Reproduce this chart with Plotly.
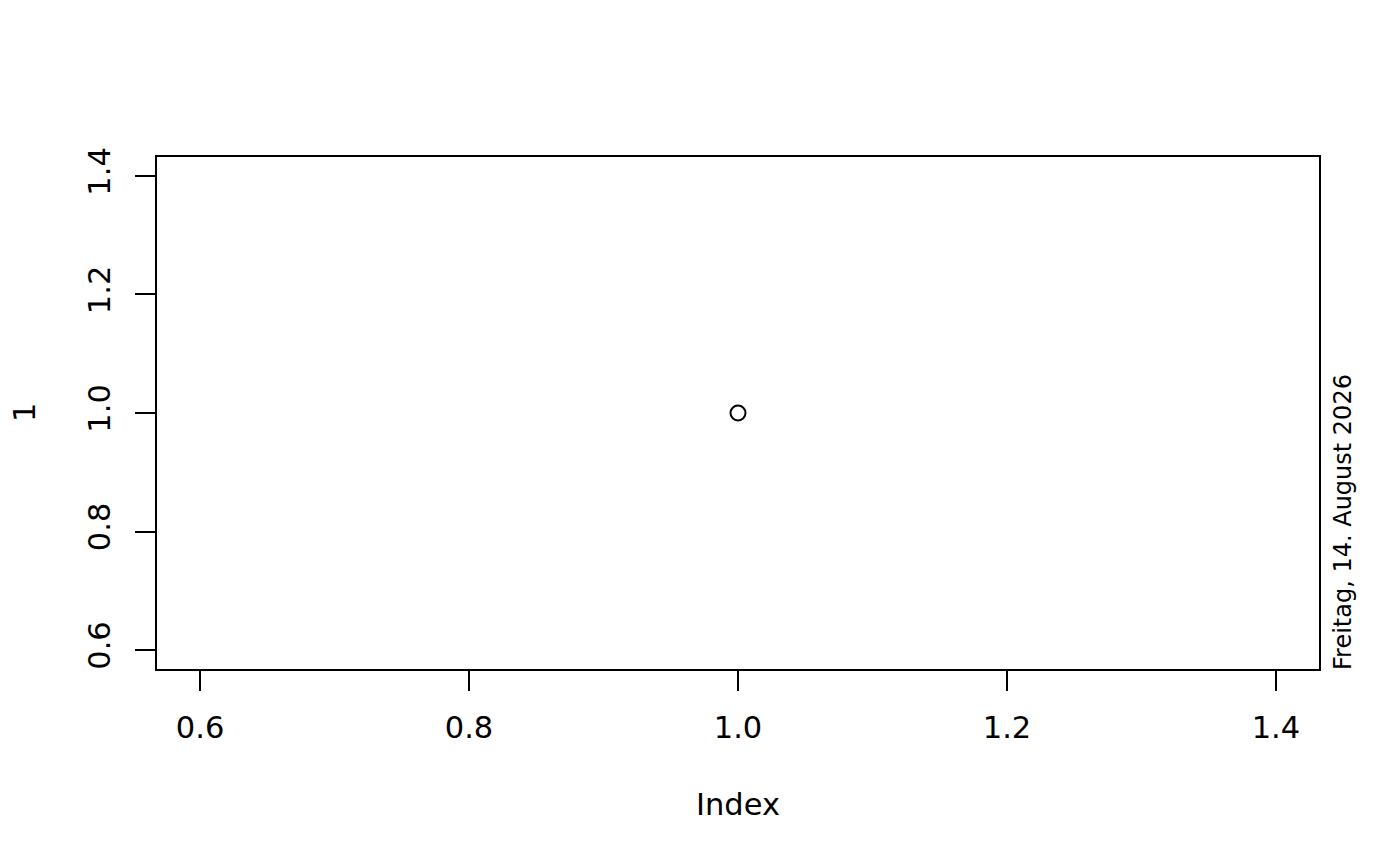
import plotly.graph_objects as go

x_vals = [1]
y_vals = [1]
tick_vals = [0.6, 0.8, 1.0, 1.2, 1.4]
tick_text = ["0.6", "0.8", "1.0", "1.2", "1.4"]
x_label = "Index"
y_label = "1"
date_text = "Freitag, 14. August 2026"

FONT = "DejaVu Sans"
FS = 30.5
W, H = 1400, 866
L, R, T, B = 157, 81, 157, 197

fig = go.Figure()
fig.add_trace(go.Scatter(
    x=x_vals, y=y_vals, mode="markers",
    marker=dict(symbol="circle-open", size=15, color="black", line=dict(width=2, color="black")),
    showlegend=False, hoverinfo="skip",
))

axis_common = dict(
    range=[0.568, 1.432], tickvals=tick_vals, ticktext=tick_text,
    showgrid=False, zeroline=False, showline=True, linecolor="black", linewidth=2,
    mirror=True, ticks="outside", ticklen=20, tickwidth=2, tickcolor="black",
    tickfont=dict(family=FONT, size=FS, color="black"),
)
fig.update_xaxes(**axis_common, ticklabelstandoff=10)
fig.update_yaxes(**axis_common, tickangle=-90, ticklabelstandoff=13)

fig.update_layout(
    width=W, height=H,
    margin=dict(l=L, r=R, t=T, b=B, autoexpand=False),
    paper_bgcolor="white", plot_bgcolor="white",
    font=dict(family=FONT, color="black"),
    annotations=[
        dict(text=x_label, xref="paper", yref="paper", x=0.5, y=-(804.5 - 669) / 512,
             showarrow=False, xanchor="center", yanchor="middle",
             font=dict(family=FONT, size=FS, color="black")),
        dict(text=y_label, xref="paper", yref="paper", x=-(157 - 24) / 1162, y=0.5,
             showarrow=False, xanchor="center", yanchor="middle", textangle=-90,
             font=dict(family=FONT, size=FS, color="black")),
        dict(text=date_text, xref="paper", yref="paper", x=(1343 - 157) / 1162, y=-3 / 512,
             showarrow=False, xanchor="center", yanchor="bottom", textangle=-90,
             font=dict(family=FONT, size=24, color="black")),
    ],
)

fig.write_html("out.html", config={"displayModeBar": False},
               post_script="document.body.style.margin='0';document.body.style.overflow='hidden';")
